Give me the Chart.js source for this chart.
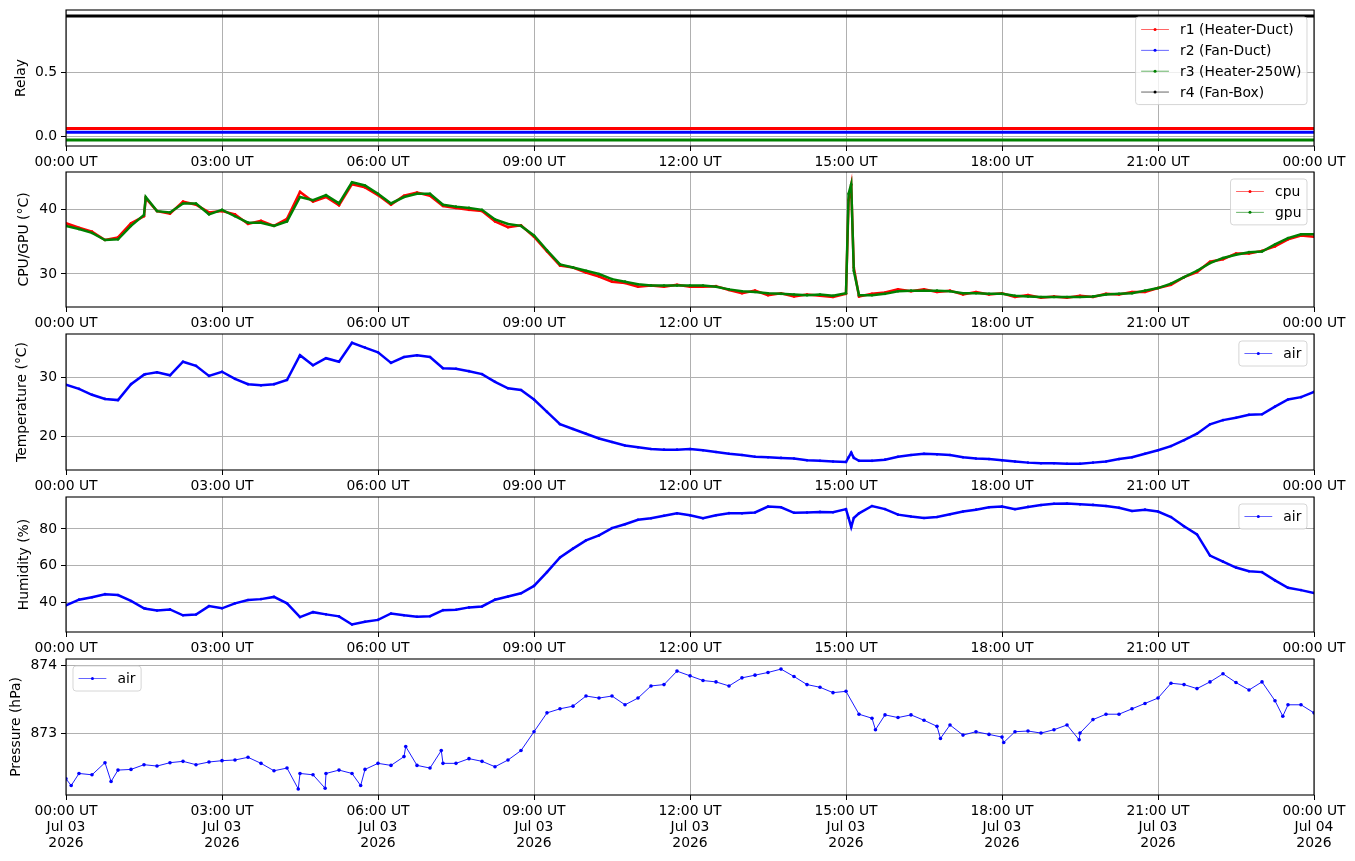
<!DOCTYPE html>
<html>
<head>
<meta charset="utf-8">
<title>Sensor log Jul 03 2026</title>
<script src="https://cdn.jsdelivr.net/npm/chart.js@4.4.1/dist/chart.umd.min.js"></script>
<style>
	body { margin: 0; background: #fff; width: 1355px; height: 861px; overflow: hidden; position: relative; }
	canvas { position: absolute; left: 0; }
</style>
</head>
<body>
<canvas id="relayChart"></canvas>
<canvas id="cpuChart"></canvas>
<canvas id="tempChart"></canvas>
<canvas id="humChart"></canvas>
<canvas id="presChart"></canvas>
<script>
// sample times, minutes after 00:00 UT Jul 03 2026
const times = [0, 15, 30, 45, 60, 75, 90, 92, 105, 120, 135, 150, 165, 180, 195, 210, 225, 240, 255, 270, 285, 300,
	315, 330, 345, 360, 375, 390, 405, 420, 435, 450, 465, 480, 495, 510, 525, 540, 555, 570, 585, 600, 615, 630,
	645, 660, 675, 690, 705, 720, 735, 750, 765, 780, 795, 810, 825, 840, 855, 870, 885, 900, 903, 906, 909, 915,
	930, 945, 960, 975, 990, 1005, 1020, 1035, 1050, 1065, 1080, 1095, 1110, 1125, 1140, 1155, 1170, 1185, 1200,
	1215, 1230, 1245, 1260, 1275, 1290, 1305, 1320, 1335, 1350, 1365, 1380, 1395, 1410, 1425, 1440];

const relayTimes = [0, 180, 360, 540, 720, 900, 1080, 1260, 1440];
const r1 = [0.06, 0.06, 0.06, 0.06, 0.06, 0.06, 0.06, 0.06, 0.06];
const r2 = [0.03, 0.03, 0.03, 0.03, 0.03, 0.03, 0.03, 0.03, 0.03];
const r3 = [-0.03, -0.03, -0.03, -0.03, -0.03, -0.03, -0.03, -0.03, -0.03];
const r4 = [0.94, 0.94, 0.94, 0.94, 0.94, 0.94, 0.94, 0.94, 0.94];

const cpu = [37.9, 37.2, 36.6, 35.3, 35.7, 37.9, 39.0, 41.8, 39.8, 39.4, 41.3, 40.8, 39.6, 39.8,
	39.3, 37.8, 38.3, 37.5, 38.6, 42.8, 41.3, 42.0, 40.7, 44.0, 43.5, 42.3,
	40.8, 42.2, 42.7, 42.2, 40.6, 40.3, 40.0, 39.8, 38.2, 37.3, 37.6, 35.8,
	33.5, 31.3, 31.0, 30.2, 29.6, 28.8, 28.6, 28.0, 28.2, 28.0, 28.3, 28.0,
	28.0, 28.1, 27.5, 27.0, 27.4, 26.7, 27.0, 26.5, 26.8, 26.6, 26.4, 26.9, 41.5, 43.8, 31.0,
	26.5, 26.9, 27.1, 27.6, 27.3, 27.6, 27.2, 27.4, 26.8, 27.2, 26.8, 27.0,
	26.4, 26.7, 26.3, 26.5, 26.3, 26.6, 26.4, 26.9, 26.8, 27.2, 27.2, 27.8,
	28.3, 29.5, 30.3, 31.9, 32.3, 33.2, 33.2, 33.6, 34.3, 35.4, 36.0, 35.8];

const gpu = [37.5, 37.0, 36.4, 35.3, 35.4, 37.5, 39.2, 42.0, 39.8, 39.6, 41.0, 41.0, 39.3, 40.0,
	39.0, 38.0, 38.0, 37.5, 38.2, 42.0, 41.5, 42.3, 41.0, 44.3, 43.8, 42.5,
	41.0, 42.0, 42.5, 42.5, 40.8, 40.5, 40.3, 40.0, 38.5, 37.8, 37.5, 36.0,
	33.7, 31.5, 31.0, 30.5, 30.0, 29.2, 28.8, 28.4, 28.2, 28.2, 28.2, 28.2,
	28.2, 28.0, 27.6, 27.3, 27.2, 27.0, 26.9, 26.8, 26.7, 26.8, 26.6, 27.0, 42.5, 44.0, 30.5,
	26.7, 26.7, 26.9, 27.3, 27.4, 27.4, 27.4, 27.3, 27.0, 27.0, 26.9, 26.9,
	26.6, 26.5, 26.4, 26.4, 26.4, 26.4, 26.5, 26.8, 26.9, 27.0, 27.4, 27.8,
	28.5, 29.5, 30.5, 31.7, 32.5, 33.0, 33.4, 33.5, 34.6, 35.6, 36.2, 36.2];

const airTemp = [28.7, 28.0, 27.0, 26.3, 26.1, 28.8, 30.4, 30.5, 30.8, 30.3, 32.6, 31.9, 30.2, 30.9,
	29.7, 28.8, 28.6, 28.8, 29.5, 33.7, 32.0, 33.2, 32.6, 35.8, 35.0, 34.2,
	32.4, 33.4, 33.7, 33.4, 31.5, 31.4, 31.0, 30.5, 29.2, 28.1, 27.8, 26.2,
	24.1, 22.0, 21.2, 20.4, 19.6, 19.0, 18.4, 18.1, 17.8, 17.7, 17.7, 17.8,
	17.6, 17.3, 17.0, 16.8, 16.5, 16.4, 16.3, 16.2, 15.9, 15.8, 15.7, 15.6, 16.4, 17.2, 16.3,
	15.8, 15.8, 16.0, 16.5, 16.8, 17.0, 16.9, 16.8, 16.4, 16.2, 16.1, 15.9,
	15.7, 15.5, 15.4, 15.4, 15.3, 15.3, 15.5, 15.7, 16.1, 16.4, 17.0, 17.6,
	18.3, 19.3, 20.4, 22.0, 22.7, 23.1, 23.6, 23.7, 25.0, 26.2, 26.6, 27.5];

const airHum = [38.4, 41.5, 42.8, 44.5, 44.0, 40.8, 36.8, 36.6, 35.6, 36.2, 33.0, 33.4, 38.0, 36.8,
	39.5, 41.3, 41.8, 43.0, 39.5, 32.0, 34.7, 33.5, 32.4, 28.0, 29.5, 30.5,
	34.0, 33.0, 32.2, 32.5, 35.8, 36.0, 37.3, 37.8, 41.5, 43.2, 45.0, 49.0,
	56.5, 64.5, 69.3, 73.8, 76.5, 80.5, 82.6, 85.0, 85.8, 87.2, 88.5, 87.5,
	85.8, 87.5, 88.6, 88.5, 89.0, 92.2, 91.8, 88.8, 89.0, 89.3, 89.1, 90.8, 86.0, 81.0, 86.0,
	88.5, 92.5, 90.8, 87.8, 86.8, 86.0, 86.5, 88.0, 89.5, 90.5, 91.8, 92.2,
	90.8, 92.0, 93.0, 93.7, 93.8, 93.4, 93.1, 92.5, 91.5, 89.8, 90.5, 89.5,
	86.5, 81.5, 77.0, 65.5, 62.2, 59.0, 57.0, 56.5, 52.0, 48.0, 46.7, 45.1];

// pressure has its own samples so the visible outliers can be kept
const presTimes = [0, 6, 15, 30, 45, 52, 60, 75, 90, 105, 120, 135, 150, 165, 180, 195, 210, 225, 240, 255,
	268, 270, 285, 299, 300, 315, 330, 340, 345, 360, 375, 390, 392, 405, 420, 433, 435, 450, 465, 480, 495,
	510, 525, 540, 555, 570, 585, 600, 615, 630, 645, 660, 675, 690, 705, 720, 735, 750, 765, 780, 795, 810,
	825, 840, 855, 870, 885, 900, 915, 930, 934, 945, 960, 975, 990, 1005, 1009, 1020, 1035, 1050, 1065, 1080,
	1082, 1095, 1110, 1125, 1140, 1155, 1169, 1170, 1185, 1200, 1215, 1230, 1245, 1260, 1275, 1290, 1305, 1320,
	1335, 1350, 1365, 1380, 1395, 1404, 1410, 1425, 1440];
const airPres = [872.32, 872.22, 872.40, 872.38, 872.56, 872.28, 872.45, 872.46, 872.53, 872.51, 872.56, 872.58,
	872.53, 872.57, 872.59, 872.60, 872.64, 872.55, 872.44, 872.48,
	872.17, 872.40, 872.38, 872.18, 872.40, 872.45, 872.40, 872.22, 872.46, 872.55, 872.52, 872.65, 872.80,
	872.52, 872.48, 872.74, 872.55, 872.55, 872.62, 872.58, 872.50,
	872.60, 872.74, 873.02, 873.30, 873.36, 873.40, 873.55, 873.52, 873.55, 873.42, 873.52, 873.70, 873.72,
	873.92, 873.85, 873.78, 873.76, 873.70, 873.82, 873.86, 873.90,
	873.95, 873.84, 873.72, 873.68, 873.60, 873.62, 873.28, 873.22, 873.05, 873.27, 873.23, 873.27, 873.19,
	873.10, 872.92, 873.12, 872.97, 873.02, 872.98, 872.94,
	872.86, 873.02, 873.03, 873.00, 873.05, 873.12, 872.90, 873.00, 873.20, 873.28, 873.28, 873.36, 873.44,
	873.52, 873.74, 873.72, 873.66, 873.76,
	873.88, 873.75, 873.64, 873.76, 873.48, 873.25, 873.42, 873.42, 873.30];

// axis ticks
const xTicks = [0, 180, 360, 540, 720, 900, 1080, 1260, 1440];
const timeLabels = ["00:00 UT", "03:00 UT", "06:00 UT", "09:00 UT", "12:00 UT", "15:00 UT", "18:00 UT", "21:00 UT", "00:00 UT"];
const dayLabels = ["Jul 03", "Jul 03", "Jul 03", "Jul 03", "Jul 03", "Jul 03", "Jul 03", "Jul 03", "Jul 04"];
const yearLabels = ["2026", "2026", "2026", "2026", "2026", "2026", "2026", "2026", "2026"];
const relayTicks = [0, 0.5];
const cpuTicks = [30, 40];
const tempTicks = [20, 30];
const humTicks = [40, 60, 80];
const presTicks = [873, 874];

const FONT = "'DejaVu Sans', sans-serif";
const FS = 13.9;

function points(xs, ys) {
	return xs.map(function(x, i) {
		return {x: x, y: ys[i]};
	});
}

function lineSet(label, xs, ys, color, width, radius) {
	return {
		label: label,
		data: points(xs, ys),
		borderColor: color,
		backgroundColor: color,
		borderWidth: width,
		pointRadius: radius,
		pointBorderWidth: 0,
		pointHoverRadius: 0,
		tension: 0
	};
}

const framePlugin = {
	id: "frame",
	afterDatasetsDraw(chart) {
		const a = chart.chartArea;
		const ctx = chart.ctx;
		ctx.save();
		ctx.strokeStyle = "#000";
		ctx.lineWidth = 1.1;
		ctx.strokeRect(a.left, a.top, a.right - a.left, a.bottom - a.top);
		ctx.restore();
	}
};

// matplotlib-like legend box inside the axes
const legendPlugin = {
	id: "boxLegend",
	afterDraw(chart, args, opts) {
		const ctx = chart.ctx;
		const a = chart.chartArea;
		const items = chart.data.datasets.map(function(d) {
			return {label: d.label, color: d.borderColor};
		});
		ctx.save();
		ctx.font = FS + "px " + FONT;
		let textW = 0;
		items.forEach(function(it) {
			textW = Math.max(textW, ctx.measureText(it.label).width);
		});
		const pad = 0.4 * FS, handle = 2 * FS, gap = 0.8 * FS, rowH = FS, space = 0.5 * FS;
		const w = pad * 2 + handle + gap + textW;
		const h = pad * 2 + items.length * rowH + (items.length - 1) * space;
		const x = opts.loc === "left" ? a.left + 7 : a.right - 7 - w;
		const y = a.top + 7;
		ctx.beginPath();
		ctx.roundRect(x, y, w, h, 3);
		ctx.fillStyle = "rgba(255,255,255,0.8)";
		ctx.fill();
		ctx.strokeStyle = "rgba(204,204,204,0.8)";
		ctx.lineWidth = 1;
		ctx.stroke();
		ctx.textBaseline = "middle";
		items.forEach(function(it, i) {
			const cy = y + pad + rowH / 2 + i * (rowH + space);
			ctx.globalAlpha = 0.6;
			ctx.strokeStyle = it.color;
			ctx.lineWidth = 1;
			ctx.beginPath();
			ctx.moveTo(x + pad, cy);
			ctx.lineTo(x + pad + handle, cy);
			ctx.stroke();
			ctx.globalAlpha = 1;
			ctx.fillStyle = it.color;
			ctx.beginPath();
			ctx.arc(x + pad + handle / 2, cy, 1.5, 0, Math.PI * 2);
			ctx.fill();
			ctx.fillStyle = "#000";
			ctx.fillText(it.label, x + pad + handle + gap, cy + 1);
		});
		ctx.restore();
	}
};

const gridOpts = {color: "#b0b0b0", lineWidth: 1, tickLength: 5, tickColor: "#000", tickWidth: 1};

function makePanel(p) {
	const el = document.getElementById(p.id);
	const padTop = 14;
	const axisH = p.bottom ? 66 : 30;
	el.width = 1355;
	el.height = p.h + padTop + axisH;
	el.style.top = (p.top - padTop) + "px";

	return new Chart(el.getContext("2d"), {
		type: "line",
		data: {datasets: p.datasets},
		plugins: [framePlugin, legendPlugin],
		options: {
			responsive: false,
			animation: false,
			events: [],
			layout: {padding: {left: 0, right: 41, top: padTop, bottom: 0}},
			plugins: {
				legend: {display: false},
				tooltip: {enabled: false},
				boxLegend: {loc: p.legendLoc}
			},
			scales: {
				x: {
					type: "linear",
					min: 0,
					max: 1440,
					afterBuildTicks: function(s) {
						s.ticks = xTicks.map(function(v) { return {value: v}; });
					},
					afterFit: function(s) { s.height = axisH; },
					grid: gridOpts,
					border: {display: false},
					ticks: {
						autoSkip: false,
						maxRotation: 0,
						padding: 3,
						color: "#000",
						font: {family: FONT, size: FS, lineHeight: 1.15},
						callback: function(v, i) {
							return p.bottom ? [timeLabels[i], dayLabels[i], yearLabels[i]] : timeLabels[i];
						}
					}
				},
				y: {
					type: "linear",
					min: p.yMin,
					max: p.yMax,
					afterBuildTicks: function(s) {
						s.ticks = p.yTicks.map(function(v) { return {value: v}; });
					},
					afterFit: function(s) { s.width = 66; },
					grid: gridOpts,
					border: {display: false},
					ticks: {
						padding: 4,
						color: "#000",
						font: {family: FONT, size: FS},
						callback: p.fmt
					},
					title: {
						display: true,
						text: p.title,
						color: "#000",
						font: {family: FONT, size: FS},
						padding: {top: p.titlePad, bottom: 0}
					}
				}
			}
		}
	});
}

const cpuSet = lineSet("cpu", times, cpu, "#ff0000", 2.5, 1.3);
cpuSet.order = 1;
const gpuSet = lineSet("gpu", times, gpu, "#008000", 2.5, 1.3);
gpuSet.order = 0;

makePanel({
	id: "relayChart", top: 10, h: 136, yMin: -0.078, yMax: 0.988, yTicks: relayTicks,
	fmt: function(v) { return v.toFixed(1); }, title: "Relay", titlePad: 13.4, legendLoc: "right",
	datasets: [
		lineSet("r1 (Heater-Duct)", relayTimes, r1, "#ff0000", 3, 0),
		lineSet("r2 (Fan-Duct)", relayTimes, r2, "#0000ff", 3, 0),
		lineSet("r3 (Heater-250W)", relayTimes, r3, "#008000", 3, 0),
		lineSet("r4 (Fan-Box)", relayTimes, r4, "#000000", 3, 0)
	]
});

makePanel({
	id: "cpuChart", top: 172, h: 135, yMin: 24.85, yMax: 45.9, yTicks: cpuTicks,
	fmt: function(v) { return String(v); }, title: "CPU/GPU (°C)", titlePad: 16.2, legendLoc: "right",
	datasets: [cpuSet, gpuSet]
});

makePanel({
	id: "tempChart", top: 334, h: 136, yMin: 14.25, yMax: 37.3, yTicks: tempTicks,
	fmt: function(v) { return String(v); }, title: "Temperature (°C)", titlePad: 14, legendLoc: "right",
	datasets: [lineSet("air", times, airTemp, "#0000ff", 2.5, 1.3)]
});

makePanel({
	id: "humChart", top: 497, h: 135, yMin: 23.9, yMax: 97.4, yTicks: humTicks,
	fmt: function(v) { return String(v); }, title: "Humidity (%)", titlePad: 16.2, legendLoc: "right",
	datasets: [lineSet("air", times, airHum, "#0000ff", 2.5, 1.3)]
});

makePanel({
	id: "presChart", top: 659, h: 136, yMin: 872.08, yMax: 874.1, yTicks: presTicks, bottom: true,
	fmt: function(v) { return String(v); }, title: "Pressure (hPa)", titlePad: 8.2, legendLoc: "left",
	datasets: [lineSet("air", presTimes, airPres, "#0000ff", 0.9, 1.8)]
});
</script>
</body>
</html>
